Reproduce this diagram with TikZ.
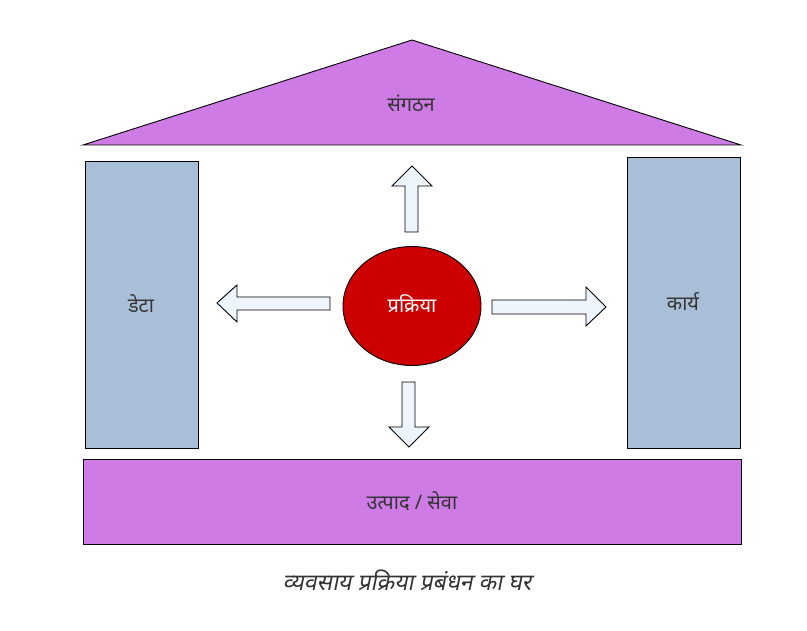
\documentclass[tikz,border=0pt]{standalone}
\usepackage{fontspec}
\usetikzlibrary{shapes.geometric}
\newfontfamily\deva[Script=Devanagari]{Noto Sans}
\newfontfamily\devaslant[Script=Devanagari,FakeSlant=0.2]{Noto Sans}
\definecolor{roofpurple}{HTML}{CE7BE5}
\definecolor{pillarblue}{HTML}{A9BFD8}
\definecolor{corered}{HTML}{CC0000}
\definecolor{arrowfill}{HTML}{EEF5FC}
\definecolor{txtdark}{HTML}{333333}
\tikzset{
  part/.style={draw=black, line width=0.9pt, line join=miter},
  label/.style={font=\deva\fontsize{20}{24}\selectfont, text=txtdark, inner sep=0pt},
  bigarrow/.style={draw=black, line width=0.9pt, fill=arrowfill, line join=miter}
}
\begin{document}
\begin{tikzpicture}[x=1pt,y=-1pt]
\useasboundingbox (0,0) rectangle (807,631);
% roof
\path[part, fill=roofpurple] (412,40) -- (741,145) -- (83,145) -- cycle;
\node[label] (roof) at (411,103) {संगठन};
% pillars
\path[part, fill=pillarblue] (85,161) rectangle (198,448);
\node[label] (data) at (141,304) {डेटा};
\path[part, fill=pillarblue] (627,157) rectangle (740,448);
\node[label] (work) at (683,302) {कार्य};
% base
\path[part, fill=roofpurple] (83,459) rectangle (741,544);
\node[label] (product) at (412,501) {उत्पाद / सेवा};
% core
\node[draw=black, line width=0.9pt, fill=corered, ellipse, minimum width=138pt, minimum height=119pt, inner sep=0pt] (core) at (412,306) {};
\node[label, text=white] (coretext) at (412,304) {प्रक्रिया};
% arrows
\path[bigarrow] (412,166) -- (432,186) -- (418,186) -- (418,232) -- (405,232) -- (405,186) -- (392,186) -- cycle;
\path[bigarrow] (217,303) -- (237,285) -- (237,297) -- (330,297) -- (330,310) -- (237,310) -- (237,322) -- cycle;
\path[bigarrow] (606,307) -- (586,287) -- (586,300) -- (492,300) -- (492,314) -- (586,314) -- (586,326) -- cycle;
\path[bigarrow] (409,447) -- (429,427) -- (415,427) -- (415,382) -- (402,382) -- (402,427) -- (389,427) -- cycle;
% caption
\node[inner sep=0pt, font=\devaslant\fontsize{23}{27}\selectfont, text=txtdark] (caption) at (407,580) {व्यवसाय प्रक्रिया प्रबंधन का घर};
\end{tikzpicture}
\end{document}
